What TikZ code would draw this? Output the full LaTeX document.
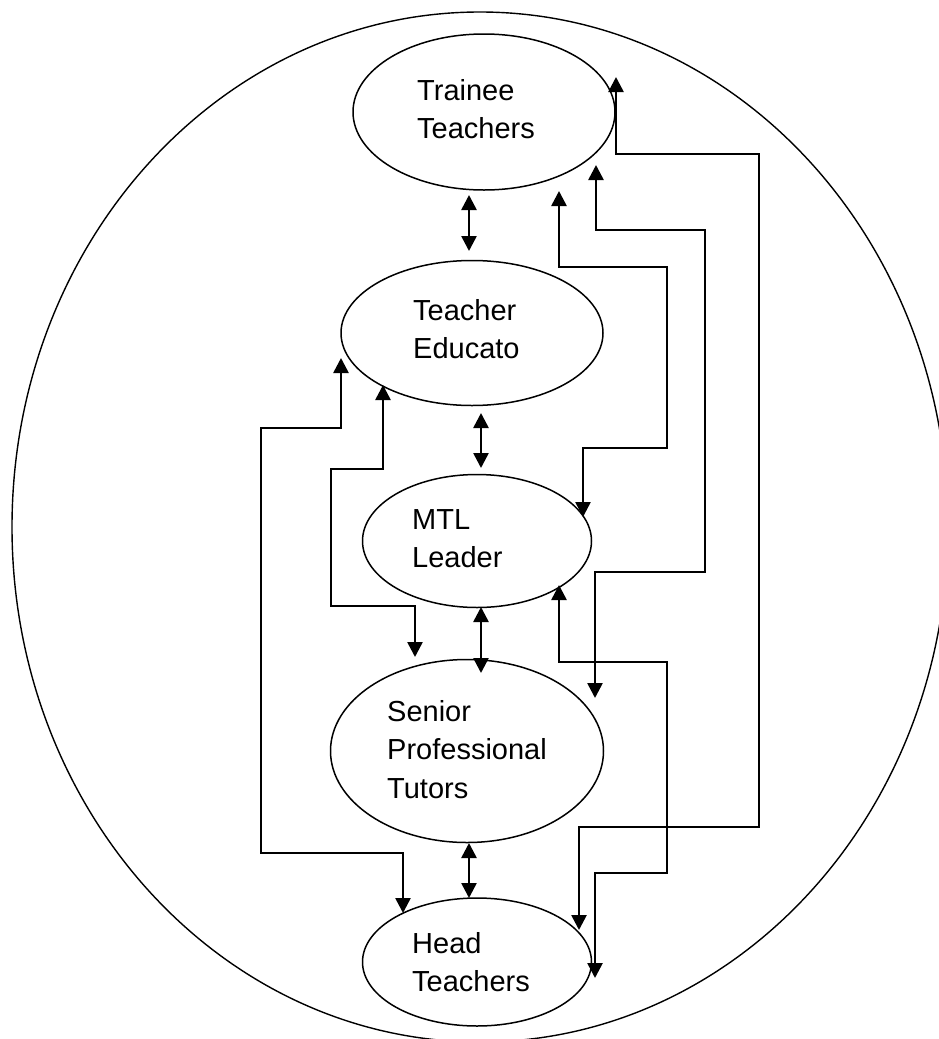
\documentclass[tikz,border=0pt]{standalone}
\usepackage{fontspec}
\setmainfont{Liberation Sans}
\usetikzlibrary{shapes.geometric,arrows.meta}

\begin{document}
\begin{tikzpicture}[x=1pt,y=-1pt,
  role/.style={ellipse,draw,line width=1.5pt,inner sep=0pt},
  caption/.style={anchor=north west,inner sep=0pt,align=left,
    font=\fontsize{29}{38.5}\selectfont},
  link/.style={line width=2.6pt,
    {Triangle[length=15pt,width=15pt]}-{Triangle[length=15pt,width=15pt]}}]

\useasboundingbox (0,0) rectangle (939,1039);
\clip (0,0) rectangle (939,1039);

% surrounding boundary
\node[ellipse,draw,line width=1.4pt,inner sep=0pt,
      minimum width=936pt,minimum height=1030pt] (frame) at (480,527) {};

% the five roles
\node[role,minimum width=262pt,minimum height=156pt] (tt)  at (484,112) {};
\node[role,minimum width=262pt,minimum height=145pt] (te)  at (472,333) {};
\node[role,minimum width=229pt,minimum height=133pt] (mtl) at (477,541) {};
\node[role,minimum width=273pt,minimum height=183pt] (spt) at (467,751) {};
\node[role,minimum width=229pt,minimum height=128pt] (ht)  at (477,962) {};

\node[caption] (tt-text)  at (417,79)  {Trainee\\Teachers};
\node[caption] (te-text)  at (413,299) {Teacher\\Educato};
\node[caption] (mtl-text) at (412,509) {MTL\\Leader};
\node[caption] (spt-text) at (387,700) {Senior\\Professional\\Tutors};
\node[caption] (ht-text)  at (412,932) {Head\\Teachers};

% end points of the connectors
\coordinate (v1a) at (469,195); \coordinate (v1b) at (469,251);
\coordinate (v2a) at (481,413); \coordinate (v2b) at (481,468);
\coordinate (v3a) at (481,607); \coordinate (v3b) at (481,673);
\coordinate (v4a) at (469,843); \coordinate (v4b) at (469,898);

\coordinate (a1) at (616,77);  \coordinate (a2) at (579,930);
\coordinate (b1) at (596,165); \coordinate (b2) at (595,698);
\coordinate (c1) at (559,191); \coordinate (c2) at (583,517);
\coordinate (d1) at (341,358); \coordinate (d2) at (403,913);
\coordinate (e1) at (383,385); \coordinate (e2) at (415,657);
\coordinate (f1) at (559,585); \coordinate (f2) at (595,978);

% links between neighbouring roles
\draw[link] (v1a) -- (v1b);
\draw[link] (v2a) -- (v2b);
\draw[link] (v3a) -- (v3b);
\draw[link] (v4a) -- (v4b);

% stepped links between distant roles
\draw[link] (a1) -- (616,154) -- (759,154) -- (759,827) -- (579,827) -- (a2);
\draw[link] (b1) -- (596,230) -- (705,230) -- (705,572) -- (595,572) -- (b2);
\draw[link] (c1) -- (559,267) -- (667,267) -- (667,448) -- (583,448) -- (c2);
\draw[link] (d1) -- (341,428) -- (261,428) -- (261,853) -- (403,853) -- (d2);
\draw[link] (e1) -- (383,469) -- (331,469) -- (331,606) -- (415,606) -- (e2);
\draw[link] (f1) -- (559,662) -- (667,662) -- (667,873) -- (595,873) -- (f2);

\end{tikzpicture}
\end{document}
